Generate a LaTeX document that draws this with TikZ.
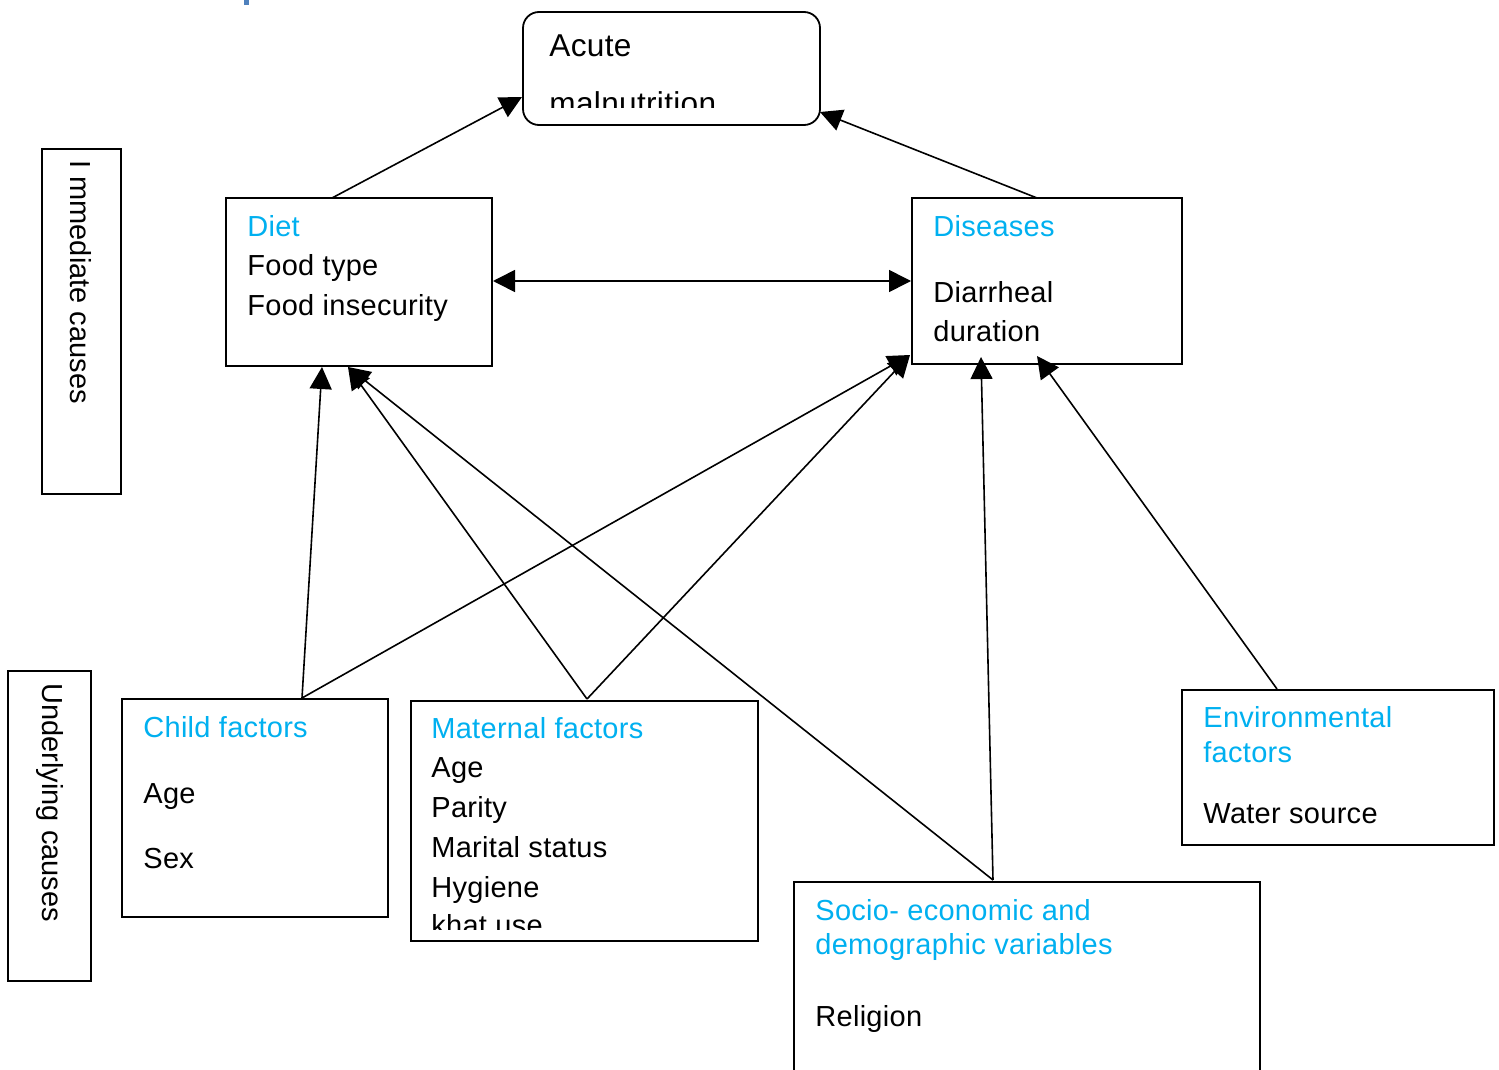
\documentclass[tikz,border=0pt]{standalone}
\usepackage{fontspec}
\setmainfont{Liberation Sans}[LetterSpace=1]
\newfontfamily\labelfont{Liberation Sans}
\usetikzlibrary{arrows.meta,fit}
\definecolor{headblue}{HTML}{00B0F0}
\definecolor{fragblue}{HTML}{4F81BD}
\begin{document}
\begin{tikzpicture}[x=0.5pt,y=-0.5pt,
  box/.style={draw,line width=0.9pt,inner sep=0pt,fill=none},
  txt/.style={anchor=base west,inner sep=0pt,font=\fontsize{14.5pt}{17pt}\selectfont},
  bigtxt/.style={anchor=base west,inner sep=0pt,font=\fontsize{15.8pt}{18pt}\selectfont},
  head/.style={txt,text=headblue},
  vlab/.style={rotate=-90,anchor=west,inner sep=0pt,font=\labelfont\fontsize{14.5pt}{17pt}\selectfont},
  conn/.style={line width=0.8pt,-{Triangle[length=11pt,width=11pt]}},
  bconn/.style={line width=0.8pt,{Triangle[length=11pt,width=11pt]}-{Triangle[length=11pt,width=11pt]}}]
\clip (0,0) rectangle (1499,1070);
\fill[white] (0,0) rectangle (1499,1070);
\fill[fragblue] (244,0) rectangle (249,5);

% boxes
\node[box,rounded corners=8pt,fit={(523,12)(820,125)}] (acute) {};
\node[box,fit={(42,149)(121,494)}] (immbox) {};
\node[box,fit={(8,671)(91,981)}] (undbox) {};
\node[box,fit={(226,198)(492,366)}] (diet) {};
\node[box,fit={(912,198)(1182,364)}] (dis) {};
\node[box,fit={(122,699)(388,917)}] (child) {};
\node[box,fit={(411,701)(758,941)}] (mat) {};
\node[box,fit={(794,882)(1260,1090)}] (soc) {};
\node[box,fit={(1182,690)(1494,845)}] (env) {};

% texts
\node[bigtxt] (t-acute) at (549,57) {Acute};
\begin{scope}
\clip (523,12) rectangle (820,108);
\node[bigtxt] (t-maln) at (549,115) {malnutrition};
\end{scope}
\node[vlab] (t-imm) at (81,160) {I mmediate causes};
\node[vlab] (t-und) at (50,683) {Underlying causes};

\node[head] (t-diet) at (247,236) {Diet};
\node[txt] (t-ft) at (247,275) {Food type};
\node[txt] (t-fi) at (247,315) {Food insecurity};

\node[head] (t-dis) at (933,236) {Diseases};
\node[txt] (t-dia) at (933,302) {Diarrheal};
\node[txt] (t-dur) at (933,341) {duration};

\node[head] (t-child) at (143,737) {Child factors};
\node[txt] (t-cage) at (143,803) {Age};
\node[txt] (t-sex) at (143,868) {Sex};

\node[head] (t-mat) at (431,738) {Maternal factors};
\node[txt] (t-mage) at (431,777) {Age};
\node[txt] (t-par) at (431,817) {Parity};
\node[txt] (t-mar) at (431,857) {Marital status};
\node[txt] (t-hyg) at (431,897) {Hygiene};
\begin{scope}
\clip (411,701) rectangle (758,929);
\node[txt] (t-khat) at (431,935) {khat use};
\end{scope}

\node[head] (t-soc1) at (815,920) {Socio- economic and};
\node[head] (t-soc2) at (815,954) {demographic variables};
\node[txt] (t-rel) at (815,1026) {Religion};

\node[head] (t-env1) at (1203,727) {Environmental};
\node[head] (t-env2) at (1203,762) {factors};
\node[txt] (t-ws) at (1203,823) {Water source};

% connector end points
\coordinate (dietTop) at (332,198);
\coordinate (disTop) at (1037,198);
\coordinate (acuteL) at (522,97);
\coordinate (acuteR) at (820,112);
\coordinate (dietR) at (493,281);
\coordinate (disL) at (911,281);
\coordinate (dietB1) at (322,367);
\coordinate (dietB2) at (348,367);
\coordinate (disBL) at (910,355);
\coordinate (disB2) at (981,357);
\coordinate (disB3) at (1037,356);
\coordinate (childTop) at (302,698);
\coordinate (matTop) at (587,699);
\coordinate (socTop) at (993,880);
\coordinate (envTop) at (1277,689);

% connectors
\draw[conn] (dietTop) -- (acuteL);
\draw[conn] (disTop) -- (acuteR);
\draw[bconn] (dietR) -- (disL);
\draw[conn] (childTop) -- (dietB1);
\draw[conn] (childTop) -- (disBL);
\draw[conn] (matTop) -- (dietB2);
\draw[conn] (matTop) -- (disBL);
\draw[conn] (socTop) -- (dietB2);
\draw[conn] (socTop) -- (disB2);
\draw[conn] (envTop) -- (disB3);
\end{tikzpicture}
\end{document}
